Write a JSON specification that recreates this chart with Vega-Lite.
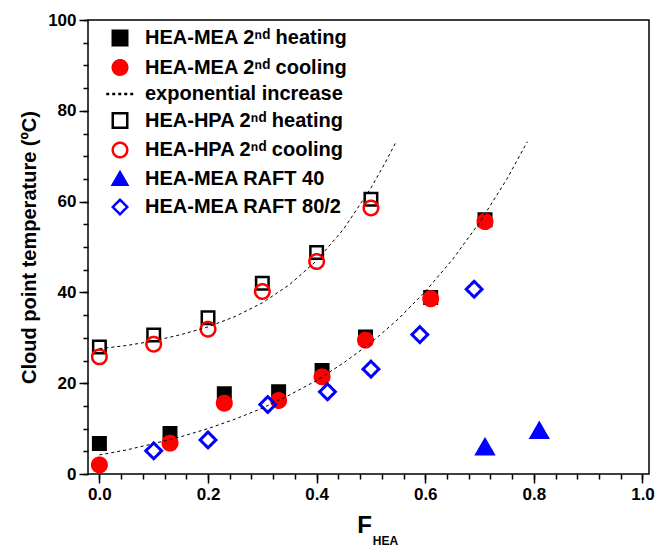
{
  "$schema": "https://vega.github.io/schema/vega-lite/v6.json",
  "width": 561,
  "height": 454,
  "autosize": {"type": "none"},
  "padding": {"left": 88, "top": 20, "right": 7, "bottom": 73},
  "config": {
    "font": "Liberation Sans",
    "view": {"stroke": "black", "strokeWidth": 1.5},
    "axis": {"grid": false, "domain": false, "tickColor": "black", "tickWidth": 1.5, "labelColor": "black", "titleColor": "black", "labelFontWeight": "bold", "titleFontWeight": "bold", "labelFontSize": 17, "labelFont": "Liberation Sans", "titleFont": "Liberation Sans"},
    "legend": {"title": null, "orient": "none", "legendX": 22, "legendY": 8, "labelFontSize": 20, "labelFontWeight": "bold", "labelColor": "black", "labelFont": "Liberation Sans", "labelLimit": 0, "rowPadding": 3.5, "labelOffset": 15, "symbolOpacity": 1, "symbolSize": 210, "symbolStrokeWidth": 2.5, "padding": 0}
  },
  "datasets": {
    "points": [
      {"series": "HEA-MEA 2ⁿᵈ heating", "x": 0.0, "y": 6.7},
      {"series": "HEA-MEA 2ⁿᵈ heating", "x": 0.13, "y": 8.9},
      {"series": "HEA-MEA 2ⁿᵈ heating", "x": 0.23, "y": 17.7},
      {"series": "HEA-MEA 2ⁿᵈ heating", "x": 0.33, "y": 18.1},
      {"series": "HEA-MEA 2ⁿᵈ heating", "x": 0.41, "y": 22.8},
      {"series": "HEA-MEA 2ⁿᵈ heating", "x": 0.49, "y": 30.2},
      {"series": "HEA-MEA 2ⁿᵈ heating", "x": 0.61, "y": 38.9},
      {"series": "HEA-MEA 2ⁿᵈ heating", "x": 0.71, "y": 56.0},
      {"series": "HEA-MEA 2ⁿᵈ cooling", "x": 0.0, "y": 2.0},
      {"series": "HEA-MEA 2ⁿᵈ cooling", "x": 0.13, "y": 6.8},
      {"series": "HEA-MEA 2ⁿᵈ cooling", "x": 0.23, "y": 15.6},
      {"series": "HEA-MEA 2ⁿᵈ cooling", "x": 0.33, "y": 16.2},
      {"series": "HEA-MEA 2ⁿᵈ cooling", "x": 0.41, "y": 21.4},
      {"series": "HEA-MEA 2ⁿᵈ cooling", "x": 0.49, "y": 29.5},
      {"series": "HEA-MEA 2ⁿᵈ cooling", "x": 0.61, "y": 38.6},
      {"series": "HEA-MEA 2ⁿᵈ cooling", "x": 0.71, "y": 55.6},
      {"series": "HEA-HPA 2ⁿᵈ heating", "x": 0.0, "y": 28.0},
      {"series": "HEA-HPA 2ⁿᵈ heating", "x": 0.1, "y": 30.6},
      {"series": "HEA-HPA 2ⁿᵈ heating", "x": 0.2, "y": 34.4},
      {"series": "HEA-HPA 2ⁿᵈ heating", "x": 0.3, "y": 42.0},
      {"series": "HEA-HPA 2ⁿᵈ heating", "x": 0.4, "y": 48.8},
      {"series": "HEA-HPA 2ⁿᵈ heating", "x": 0.5, "y": 60.5},
      {"series": "HEA-HPA 2ⁿᵈ cooling", "x": 0.0, "y": 25.8},
      {"series": "HEA-HPA 2ⁿᵈ cooling", "x": 0.1, "y": 28.6},
      {"series": "HEA-HPA 2ⁿᵈ cooling", "x": 0.2, "y": 31.9},
      {"series": "HEA-HPA 2ⁿᵈ cooling", "x": 0.3, "y": 40.2},
      {"series": "HEA-HPA 2ⁿᵈ cooling", "x": 0.4, "y": 46.8},
      {"series": "HEA-HPA 2ⁿᵈ cooling", "x": 0.5, "y": 58.6},
      {"series": "HEA-MEA RAFT 40", "x": 0.71, "y": 6.0},
      {"series": "HEA-MEA RAFT 40", "x": 0.81, "y": 9.6},
      {"series": "HEA-MEA RAFT 80/2", "x": 0.1, "y": 5.1},
      {"series": "HEA-MEA RAFT 80/2", "x": 0.2, "y": 7.5},
      {"series": "HEA-MEA RAFT 80/2", "x": 0.31, "y": 15.3},
      {"series": "HEA-MEA RAFT 80/2", "x": 0.42, "y": 18.1},
      {"series": "HEA-MEA RAFT 80/2", "x": 0.5, "y": 23.1},
      {"series": "HEA-MEA RAFT 80/2", "x": 0.59, "y": 30.7},
      {"series": "HEA-MEA RAFT 80/2", "x": 0.69, "y": 40.7}
    ],
    "curves": [
      {"series": "exponential increase", "curve": "lower", "x": 0.0, "y": 4.2},
      {"series": "exponential increase", "curve": "lower", "x": 0.05, "y": 5.3},
      {"series": "exponential increase", "curve": "lower", "x": 0.1, "y": 6.7},
      {"series": "exponential increase", "curve": "lower", "x": 0.15, "y": 8.2},
      {"series": "exponential increase", "curve": "lower", "x": 0.2, "y": 10.0},
      {"series": "exponential increase", "curve": "lower", "x": 0.25, "y": 12.1},
      {"series": "exponential increase", "curve": "lower", "x": 0.3, "y": 14.5},
      {"series": "exponential increase", "curve": "lower", "x": 0.35, "y": 17.4},
      {"series": "exponential increase", "curve": "lower", "x": 0.4, "y": 20.6},
      {"series": "exponential increase", "curve": "lower", "x": 0.45, "y": 24.5},
      {"series": "exponential increase", "curve": "lower", "x": 0.5, "y": 28.9},
      {"series": "exponential increase", "curve": "lower", "x": 0.55, "y": 34.1},
      {"series": "exponential increase", "curve": "lower", "x": 0.6, "y": 40.2},
      {"series": "exponential increase", "curve": "lower", "x": 0.65, "y": 47.2},
      {"series": "exponential increase", "curve": "lower", "x": 0.7, "y": 55.4},
      {"series": "exponential increase", "curve": "lower", "x": 0.75, "y": 64.9},
      {"series": "exponential increase", "curve": "lower", "x": 0.788, "y": 73.2},
      {"series": "exponential increase", "curve": "upper", "x": 0.0, "y": 27.6},
      {"series": "exponential increase", "curve": "upper", "x": 0.05, "y": 28.3},
      {"series": "exponential increase", "curve": "upper", "x": 0.1, "y": 29.3},
      {"series": "exponential increase", "curve": "upper", "x": 0.15, "y": 30.7},
      {"series": "exponential increase", "curve": "upper", "x": 0.2, "y": 32.4},
      {"series": "exponential increase", "curve": "upper", "x": 0.25, "y": 34.7},
      {"series": "exponential increase", "curve": "upper", "x": 0.3, "y": 37.7},
      {"series": "exponential increase", "curve": "upper", "x": 0.35, "y": 41.7},
      {"series": "exponential increase", "curve": "upper", "x": 0.4, "y": 47.0},
      {"series": "exponential increase", "curve": "upper", "x": 0.45, "y": 54.0},
      {"series": "exponential increase", "curve": "upper", "x": 0.5, "y": 63.0},
      {"series": "exponential increase", "curve": "upper", "x": 0.525, "y": 68.3},
      {"series": "exponential increase", "curve": "upper", "x": 0.547, "y": 73.3}
    ]
  },
  "resolve": {"axis": {"x": "independent", "y": "independent"}},
  "layer": [
    {
      "data": {"name": "points"},
      "transform": [{"filter": {"field": "series", "oneOf": ["HEA-MEA 2ⁿᵈ heating", "HEA-HPA 2ⁿᵈ heating"]}}],
      "mark": {"type": "point", "opacity": 1, "size": 156, "strokeWidth": 2.5},
      "encoding": {
        "x": {"field": "x", "type": "quantitative", "scale": {"domain": [-0.021, 1.012], "nice": false, "zero": false},
          "axis": {"orient": "bottom", "values": [0, 0.2, 0.4, 0.6, 0.8, 1.0], "format": ".1f", "tickSize": 9, "labelPadding": 3, "title": "F", "titleFontSize": 24, "titleX": 276, "titleY": 51, "titleBaseline": "middle", "titleAlign": "center"}},
        "y": {"field": "y", "type": "quantitative", "scale": {"domain": [0, 100], "nice": false},
          "axis": {"orient": "left", "values": [0, 20, 40, 60, 80, 100], "tickSize": 9, "labelPadding": 3, "title": "Cloud point temperature (ºC)", "titleFontSize": 20, "titlePadding": 8}},
        "shape": {"field": "series", "type": "nominal",
          "scale": {"domain": ["HEA-MEA 2ⁿᵈ heating", "HEA-MEA 2ⁿᵈ cooling", "exponential increase", "HEA-HPA 2ⁿᵈ heating", "HEA-HPA 2ⁿᵈ cooling", "HEA-MEA RAFT 40", "HEA-MEA RAFT 80/2"], "range": ["square", "circle", "M-1.9,0H1.9", "square", "circle", "triangle-up", "diamond"]}},
        "fill": {"field": "series", "type": "nominal",
          "scale": {"domain": ["HEA-MEA 2ⁿᵈ heating", "HEA-MEA 2ⁿᵈ cooling", "exponential increase", "HEA-HPA 2ⁿᵈ heating", "HEA-HPA 2ⁿᵈ cooling", "HEA-MEA RAFT 40", "HEA-MEA RAFT 80/2"], "range": ["black", "#ff0000", "transparent", "transparent", "transparent", "#0000ff", "transparent"]}},
        "stroke": {"field": "series", "type": "nominal",
          "scale": {"domain": ["HEA-MEA 2ⁿᵈ heating", "HEA-MEA 2ⁿᵈ cooling", "exponential increase", "HEA-HPA 2ⁿᵈ heating", "HEA-HPA 2ⁿᵈ cooling", "HEA-MEA RAFT 40", "HEA-MEA RAFT 80/2"], "range": ["black", "#ff0000", "black", "black", "#ff0000", "#0000ff", "#0000ff"]}},
        "strokeDash": {"field": "series", "type": "nominal",
          "scale": {"domain": ["HEA-MEA 2ⁿᵈ heating", "HEA-MEA 2ⁿᵈ cooling", "exponential increase", "HEA-HPA 2ⁿᵈ heating", "HEA-HPA 2ⁿᵈ cooling", "HEA-MEA RAFT 40", "HEA-MEA RAFT 80/2"], "range": [[1, 0], [1, 0], [3, 3], [1, 0], [1, 0], [1, 0], [1, 0]]}}
      }
    },
    {
      "data": {"name": "points"},
      "transform": [{"filter": {"field": "series", "oneOf": ["HEA-MEA 2ⁿᵈ cooling", "HEA-HPA 2ⁿᵈ cooling"]}}],
      "mark": {"type": "point", "opacity": 1, "size": 210, "strokeWidth": 2.5},
      "encoding": {
        "x": {"field": "x", "type": "quantitative", "axis": null},
        "y": {"field": "y", "type": "quantitative", "axis": null},
        "shape": {"field": "series", "type": "nominal"},
        "fill": {"field": "series", "type": "nominal"},
        "stroke": {"field": "series", "type": "nominal"},
        "strokeDash": {"field": "series", "type": "nominal"}
      }
    },
    {
      "data": {"name": "points"},
      "transform": [{"filter": {"field": "series", "oneOf": ["HEA-MEA RAFT 40"]}}],
      "mark": {"type": "point", "opacity": 1, "size": 290, "strokeWidth": 2.5},
      "encoding": {
        "x": {"field": "x", "type": "quantitative", "axis": null},
        "y": {"field": "y", "type": "quantitative", "axis": null},
        "shape": {"field": "series", "type": "nominal"},
        "fill": {"field": "series", "type": "nominal"},
        "stroke": {"field": "series", "type": "nominal"},
        "strokeDash": {"field": "series", "type": "nominal"}
      }
    },
    {
      "data": {"name": "points"},
      "transform": [{"filter": {"field": "series", "oneOf": ["HEA-MEA RAFT 80/2"]}}],
      "mark": {"type": "point", "opacity": 1, "size": 250, "strokeWidth": 3},
      "encoding": {
        "x": {"field": "x", "type": "quantitative", "axis": null},
        "y": {"field": "y", "type": "quantitative", "axis": null},
        "shape": {"field": "series", "type": "nominal"},
        "fill": {"field": "series", "type": "nominal"},
        "stroke": {"field": "series", "type": "nominal"},
        "strokeDash": {"field": "series", "type": "nominal"}
      }
    },
    {
      "data": {"name": "curves"},
      "mark": {"type": "line", "strokeWidth": 1},
      "encoding": {
        "x": {"field": "x", "type": "quantitative",
          "axis": {"orient": "bottom", "values": [0, 0.04, 0.08, 0.12, 0.16, 0.2, 0.24, 0.28, 0.32, 0.36, 0.4, 0.44, 0.48, 0.52, 0.56, 0.6, 0.64, 0.68, 0.72, 0.76, 0.8, 0.84, 0.88, 0.92, 0.96, 1.0], "tickSize": 5, "labels": false, "title": "HEA", "titleFontSize": 12, "titleX": 297, "titleY": 66, "titleBaseline": "middle", "titleAlign": "center"}},
        "y": {"field": "y", "type": "quantitative",
          "axis": {"orient": "left", "values": [0, 5, 10, 15, 20, 25, 30, 35, 40, 45, 50, 55, 60, 65, 70, 75, 80, 85, 90, 95, 100], "tickSize": 5, "labels": false, "title": null}},
        "detail": {"field": "curve"},
        "stroke": {"field": "series", "type": "nominal"},
        "strokeDash": {"field": "series", "type": "nominal"}
      }
    }
  ]
}
